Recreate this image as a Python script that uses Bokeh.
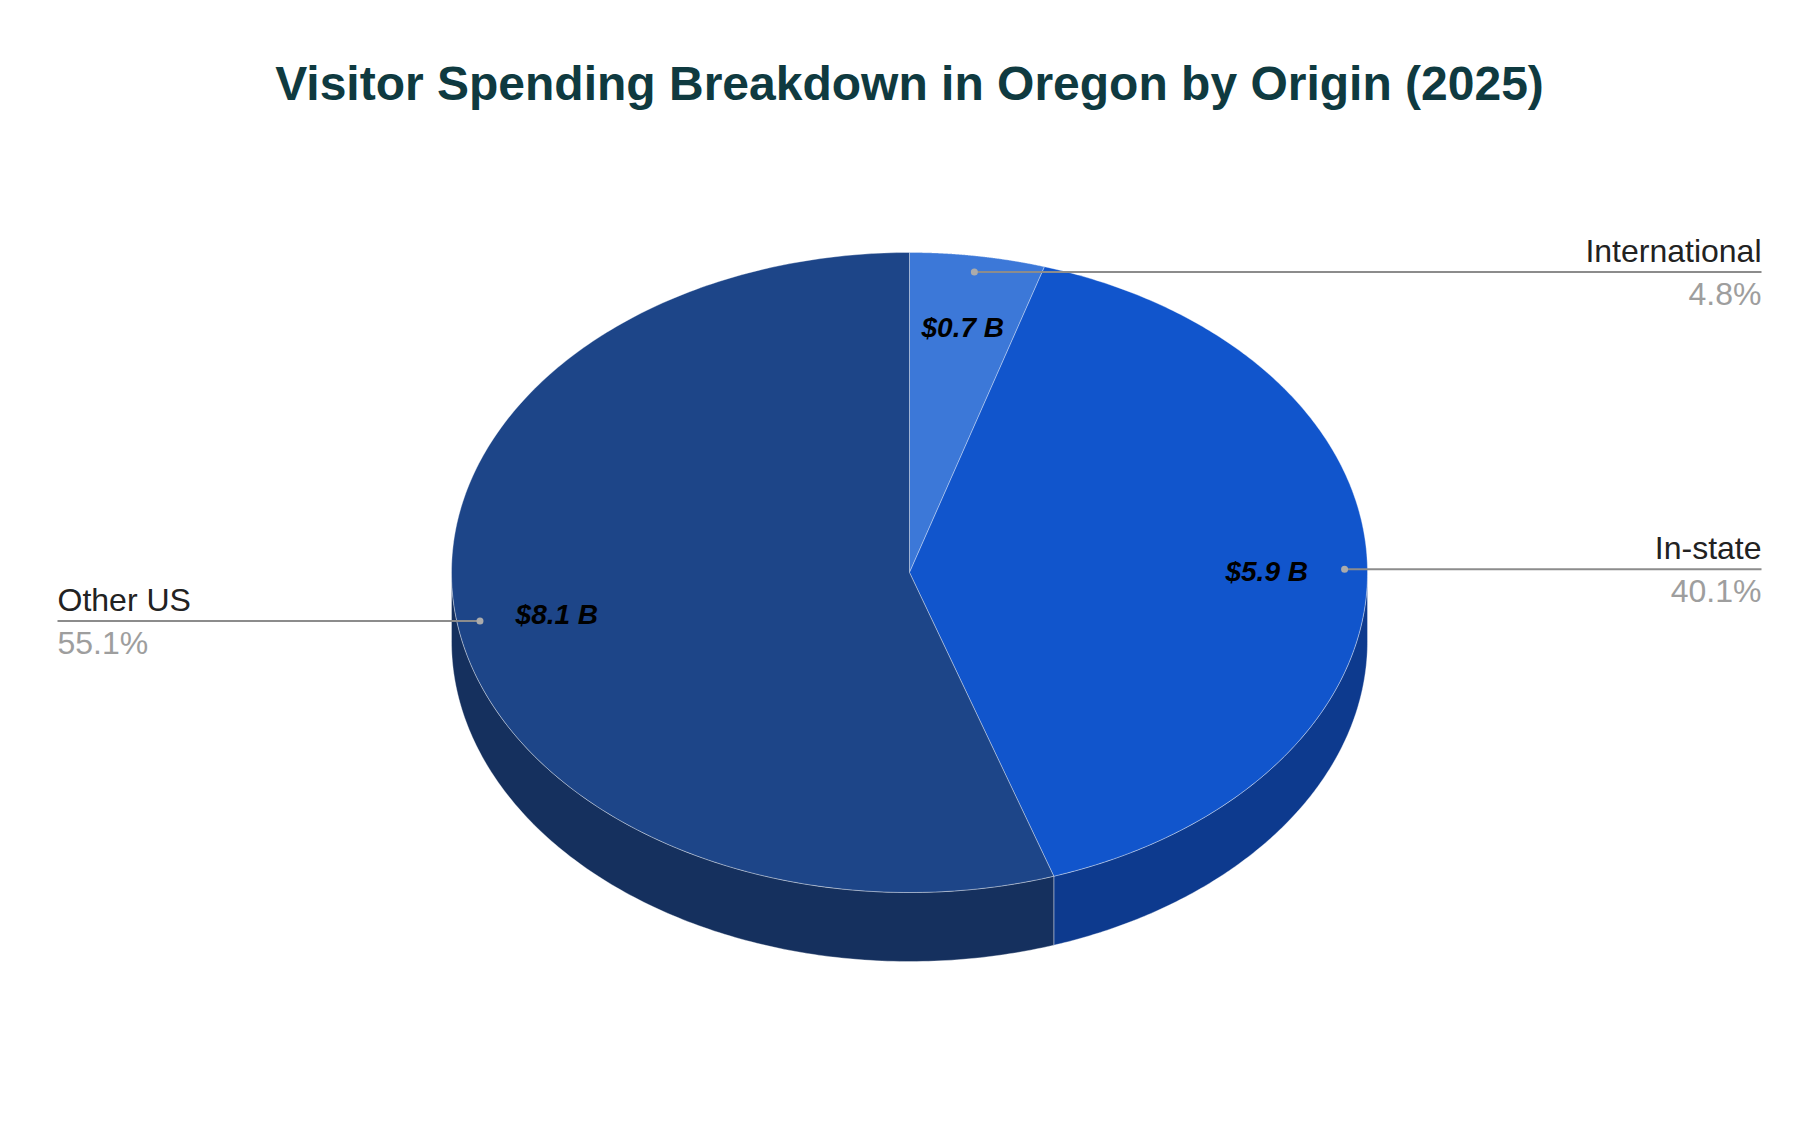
import numpy as np
from bokeh.plotting import figure
from bokeh.models import Range1d
from bokeh.core.properties import value
from bokeh.embed import file_html
from bokeh.resources import INLINE

# data
title = "Visitor Spending Breakdown in Oregon by Origin (2025)"
categories = ["International", "In-state", "Other US"]
spending = [0.7, 5.9, 8.1]  # billions of dollars
value_labels = ["$0.7 B", "$5.9 B", "$8.1 B"]

top_colors = ["#3c78d8", "#1155cc", "#1d4588"]
side_colors = ["#2a5aa8", "#0d3a8e", "#15305e"]

# geometry of the tilted pie (page pixels)
CX, CY, RX, RY, DEPTH = 909, 572, 458, 320, 69
FONT = value("Liberation Sans")


def ell(t, f=1.0, dy=0.0):
    # angle t measured clockwise from 12 o'clock
    return CX + RX * f * np.sin(t), CY - RY * f * np.cos(t) + dy


total = sum(spending)
bounds = np.concatenate([[0.0], np.cumsum(spending)]) / total * 2 * np.pi
percents = ["%.1f%%" % (v / total * 100) for v in spending]

p = figure(width=1802, height=1106, x_range=Range1d(0, 1802), y_range=Range1d(1106, 0),
           output_backend="svg", toolbar_location=None, min_border=0,
           x_axis_type=None, y_axis_type=None)
p.grid.visible = False
p.outline_line_color = None
p.background_fill_color = "white"
p.border_fill_color = "white"

# side walls (only the front half is visible)
for i in range(len(categories)):
    a = max(bounds[i], np.pi / 2)
    b = min(bounds[i + 1], 3 * np.pi / 2)
    if b <= a:
        continue
    t = np.linspace(a, b, 150)
    xt, yt = ell(t)
    xb, yb = ell(t[::-1], dy=DEPTH)
    p.patch(np.concatenate([xt, xb]), np.concatenate([yt, yb]),
            fill_color=side_colors[i], line_color="white", line_alpha=0.35, line_width=1)

# top wedges
for i in range(len(categories)):
    t = np.linspace(bounds[i], bounds[i + 1], 250)
    x, y = ell(t)
    p.patch(np.concatenate([[CX], x]), np.concatenate([[CY], y]),
            fill_color=top_colors[i], line_color="white", line_alpha=0.35, line_width=1)

# leader lines, labels and values
for i, name in enumerate(categories):
    mid = (bounds[i] + bounds[i + 1]) / 2
    dx, dy = ell(mid, 0.95)
    vx, vy = ell(mid, 0.78)
    if np.sin(mid) > 0:
        lx, align = 1761, "right"
    else:
        lx, align = 57, "left"
    p.line([dx, lx], [dy, dy], line_color="#8c8c8c", line_width=2)
    p.scatter([dx], [dy], size=7, fill_color="#ababab", line_color=None)
    p.text([lx], [dy - 21], text=[name], text_font=FONT, text_font_size="32px",
           text_align=align, text_baseline="alphabetic", text_color="#222222")
    p.text([lx], [dy + 22], text=[percents[i]], text_font=FONT, text_font_size="32px",
           text_align=align, text_baseline="alphabetic", text_color="#9e9e9e")
    p.text([vx], [vy + 2], text=[value_labels[i]], text_font=FONT, text_font_size="28px",
           text_font_style="bold italic", text_align="center", text_baseline="middle",
           text_color="#000000")

# title
p.text([CX], [83], text=[title], text_font=FONT, text_font_size="48px",
       text_font_style="bold", text_align="center", text_baseline="alphabetic",
       text_color="#0f3a40")

open("out.html", "w").write(file_html(p, INLINE, title="Visitor spending"))
